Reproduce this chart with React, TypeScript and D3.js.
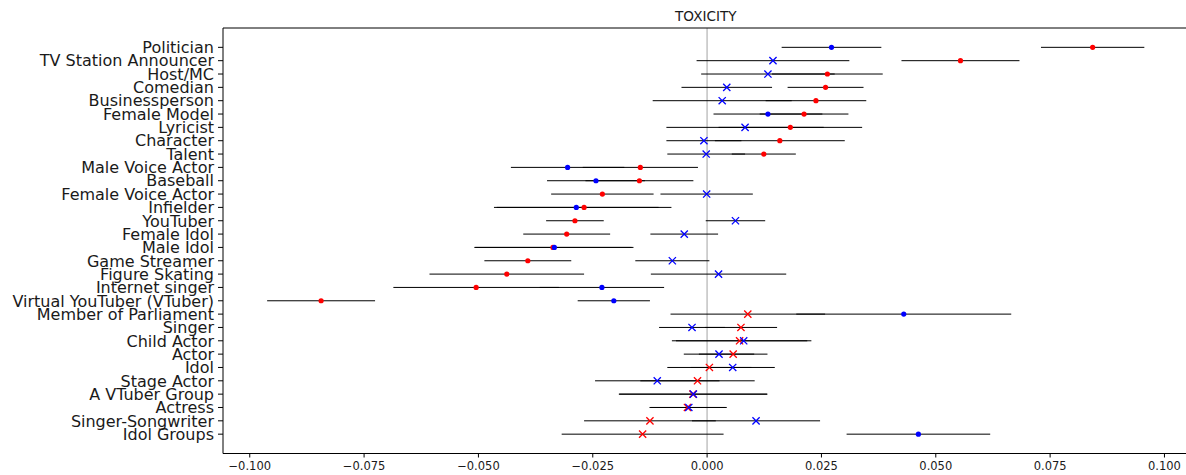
import React from 'react';
import * as d3 from 'd3';

const categories = [
    'Politician', 'TV Station Announcer', 'Host/MC', 'Comedian', 'Businessperson', 'Female Model',
    'Lyricist', 'Character', 'Talent', 'Male Voice Actor', 'Baseball', 'Female Voice Actor',
    'Infielder', 'YouTuber', 'Female Idol', 'Male Idol', 'Game Streamer', 'Figure Skating',
    'Internet singer', 'Virtual YouTuber (VTuber)', 'Member of Parliament', 'Singer', 'Child Actor',
    'Actor', 'Idol', 'Stage Actor', 'A VTuber Group', 'Actress', 'Singer-Songwriter', 'Idol Groups'
];

// red series: estimate and half-width of the interval
const redMean = [
    0.0843, 0.0554, 0.0263, 0.0259, 0.0238, 0.0212,
    0.0182, 0.0159, 0.0124, -0.0146, -0.0148, -0.0229,
    -0.0269, -0.0289, -0.0307, -0.0337, -0.0392, -0.0438,
    -0.0505, -0.0844, 0.0089, 0.0074, 0.0071,
    0.0057, 0.0005, -0.0021, -0.0031, -0.0043, -0.0125, -0.0141
];
const redErr = [
    0.0113, 0.0129, 0.0121, 0.0083, 0.0110, 0.0097,
    0.0157, 0.0142, 0.0070, 0.0126, 0.0118, 0.0112,
    0.0191, 0.0063, 0.0095, 0.0172, 0.0095, 0.0169,
    0.0181, 0.0118, 0.0169, 0.0079, 0.0148,
    0.0075, 0.0092, 0.0125, 0.0162, 0.0083, 0.0144, 0.0177
];

// blue series
const blueMean = [
    0.0272, 0.0144, 0.0133, 0.0043, 0.0033, 0.0133,
    0.0083, -0.0007, -0.0002, -0.0305, -0.0243, -0.0001,
    -0.0286, 0.0062, -0.0050, -0.0334, -0.0076, 0.0025,
    -0.0230, -0.0204, 0.0430, -0.0033, 0.0080,
    0.0026, 0.0056, -0.0109, -0.0030, -0.0040, 0.0107, 0.0462
];
const blueErr = [
    0.0109, 0.0167, 0.0146, 0.0099, 0.0152, 0.0119,
    0.0172, 0.0082, 0.0085, 0.0124, 0.0107, 0.0101,
    0.0180, 0.0065, 0.0074, 0.0173, 0.0081, 0.0148,
    0.0136, 0.0079, 0.0235, 0.0072, 0.0148,
    0.0077, 0.0092, 0.0136, 0.0162, 0.0083, 0.0140, 0.0157
];

const xTicks = [-0.1, -0.075, -0.05, -0.025, 0, 0.025, 0.05, 0.075, 0.1];

const W = 1186;
const H = 475;
const FONT = '"DejaVu Sans", "Noto Sans", sans-serif';

const series = [
    { mean: redMean, err: redErr, color: '#ff0000' },
    { mean: blueMean, err: blueErr, color: '#0000ff' },
];

export default function App() {
    const left = 223, right = 1188.7, top = 28, bottom = 453.5;

    const x = d3.scaleLinear().domain([-0.10585, 0.1053]).range([left, right]);
    const y = d3.scalePoint<string>().domain(categories).range([top, bottom]).padding(1.45);
    const fmt = d3.format('.3f');

    const marker = (cx: number, cy: number, sig: boolean, color: string, key: string) => {
        if (sig) return <circle key={key} cx={cx} cy={cy} r={2.6} fill={color} />;
        const s = 3.6;
        return (
            <path key={key} d={`M${cx - s},${cy - s}L${cx + s},${cy + s}M${cx - s},${cy + s}L${cx + s},${cy - s}`}
                stroke={color} strokeWidth={1.3} fill="none" />
        );
    };

    return (
        <svg width={W} height={H} style={{ position: 'absolute', left: 0, top: 0, background: '#fff' }}
            fontFamily={FONT}>
            <rect width={W} height={H} fill="#fff" />

            {/* zero reference */}
            <line x1={x(0)} x2={x(0)} y1={top} y2={bottom} stroke="#cccccc" strokeWidth={1.8} />

            {/* intervals */}
            {series.map((s, si) => categories.map((c, i) => (
                <line key={`l${si}-${i}`} x1={x(s.mean[i] - s.err[i])} x2={x(s.mean[i] + s.err[i])}
                    y1={y(c)} y2={y(c)} stroke="#000" strokeWidth={1} />
            )))}

            {/* estimates: dot when the interval excludes zero, cross otherwise */}
            {series.map((s, si) => categories.map((c, i) =>
                marker(x(s.mean[i]), y(c)!, Math.abs(s.mean[i]) > s.err[i], s.color, `m${si}-${i}`)
            ))}

            {/* spines */}
            <line x1={left} x2={W} y1={top} y2={top} stroke="#000" strokeWidth={1} />
            <line x1={left} x2={left} y1={top} y2={bottom} stroke="#000" strokeWidth={1} />
            <line x1={left} x2={W} y1={bottom} y2={bottom} stroke="#000" strokeWidth={1} />

            {/* y axis */}
            {categories.map(c => (
                <g key={c} transform={`translate(0,${y(c)})`}>
                    <line x1={left - 5} x2={left} stroke="#000" strokeWidth={1} />
                    <text x={left - 9} dy="0.36em" textAnchor="end" fontSize={16} fill="#1a1a1a">{c}</text>
                </g>
            ))}

            {/* x axis */}
            {xTicks.map(t => (
                <g key={t} transform={`translate(${x(t)},${bottom})`}>
                    <line y1={0} y2={4} stroke="#000" strokeWidth={1} />
                    <text y={16} textAnchor="middle" fontSize={11.5} fill="#1a1a1a">{fmt(t)}</text>
                </g>
            ))}

            <text x={(left + right) / 2} y={20.5} textAnchor="middle" fontSize={13.6} fill="#1a1a1a">TOXICITY</text>
        </svg>
    );
}
